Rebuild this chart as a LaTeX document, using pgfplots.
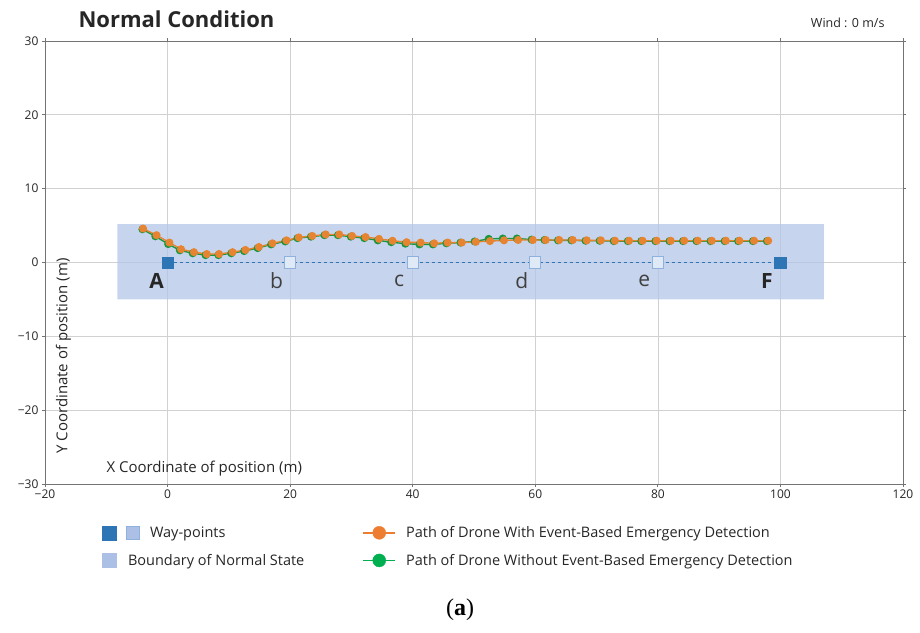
\documentclass[border=0pt]{standalone}
\usepackage{pgfplots}
\pgfplotsset{compat=1.18}
\usepackage{fontspec}
\setmainfont{Open Sans}
\setsansfont{Open Sans}
\newfontfamily\seriffont{Liberation Serif}
\definecolor{wpdark}{RGB}{46,117,182}
\definecolor{wplight}{RGB}{224,233,246}
\definecolor{wpedge}{RGB}{143,177,222}
\definecolor{wplegend}{RGB}{172,192,230}
\definecolor{bnd}{RGB}{180,198,232}
\definecolor{orangeD}{RGB}{230,132,50}
\definecolor{greenD}{RGB}{25,150,65}
\definecolor{greenL}{RGB}{0,176,80}
\definecolor{orangeL}{RGB}{237,125,49}
\begin{document}
\begin{tikzpicture}
\useasboundingbox (0pt,0pt) rectangle (920pt,-632pt);
\begin{axis}[
  at={(45pt,-484pt)}, anchor=south west, scale only axis,
  width=858pt, height=443pt,
  xmin=-20, xmax=120, ymin=-30, ymax=30,
  xtick={-20,0,20,40,60,80,100,120},
  xticklabels={−20,0,20,40,60,80,100,120},
  ytick={-30,-20,-10,0,10,20,30},
  yticklabels={−30,−20,−10,0,10,20,30},
  grid=major, grid style={black!18, line width=0.7pt},
  axis line style={black!55, line width=0.9pt},
  tick style={black!55, line width=0.8pt},
  tick align=outside, major tick length=3pt,
  tick label style={font=\fontsize{12}{14}\selectfont, text=black!85},
  xticklabel style={yshift=1pt},
  clip=false,
  legend columns=2,
  legend cell align=left,
  legend style={at={(0.066,-0.091)}, anchor=north west, draw=none, fill=none,
    font=\fontsize{14.5}{17}\selectfont, text=black!85,
    /tikz/every odd column/.append style={column sep=8pt},
    /tikz/every even column/.append style={column sep=56pt},
    row sep=11pt, inner sep=0pt},
]
% boundary of normal state
\addplot[fill=bnd, fill opacity=0.75, draw=none, forget plot]
  coordinates {(-8.2,-5) (107.1,-5) (107.1,5.2) (-8.2,5.2) (-8.2,-5)};
% way-point route
\addplot[wpdark, dashed, line width=0.9pt, forget plot] coordinates {(0,0) (100,0)};
\addplot[only marks, mark=square*, mark size=5.6pt,
  mark options={fill=wplight, draw=wpedge, line width=0.9pt}, forget plot]
  coordinates {(20,0) (40,0) (60,0) (80,0)};
\addplot[only marks, mark=square*, mark size=5.8pt, mark options={fill=wpdark, draw=wpdark}, forget plot]
  coordinates {(0,0) (100,0)};
% path without event-based detection
\addplot[greenD, line width=1.4pt, mark=*, mark size=3.3pt, mark options={fill=greenD, draw=greenD}, forget plot]
  coordinates {(-4.1,4.5) (-2.0,3.55) (0.1,2.5) (2.0,1.65) (4.1,1.25) (6.2,1.0) (8.3,1.0) (10.4,1.25)
  (12.5,1.55) (14.7,1.95) (16.9,2.45) (19.2,2.85) (21.2,3.3) (23.4,3.5) (25.6,3.7) (27.8,3.7)
  (29.9,3.5) (32.1,3.3) (34.3,3.0) (36.5,2.75) (38.8,2.55) (41.1,2.45) (43.3,2.45) (45.5,2.6)
  (47.8,2.7) (50.1,2.85) (52.4,3.2) (54.7,3.25) (57.0,3.25) (59.4,3.1) (61.5,3.05) (63.7,3.0)
  (65.9,3.0) (68.2,2.95) (70.5,2.95) (72.8,2.9) (75.1,2.9) (77.3,2.9) (79.6,2.9) (81.9,2.9)
  (84.1,2.9) (86.3,2.9) (88.6,2.9) (90.9,2.9) (93.1,2.9) (95.5,2.9) (97.8,2.9)};
% path with event-based detection
\addplot[orangeD, line width=1.4pt, mark=*, mark size=3.3pt, mark options={fill=orangeD, draw=orangeD}, forget plot]
  coordinates {(-4.0,4.6) (-1.8,3.7) (0.3,2.7) (2.2,1.8) (4.3,1.4) (6.4,1.15) (8.4,1.15) (10.6,1.4)
  (12.7,1.7) (14.9,2.1) (17.1,2.6) (19.4,3.0) (21.4,3.4) (23.6,3.6) (25.8,3.8) (28.0,3.8)
  (30.1,3.6) (32.3,3.45) (34.5,3.2) (36.7,2.95) (39.0,2.75) (41.3,2.7) (43.5,2.6) (45.7,2.7)
  (48.0,2.7) (50.3,2.8) (52.6,2.9) (54.9,3.0) (57.2,3.05) (59.6,3.05) (61.7,3.05) (63.9,3.05)
  (66.1,3.05) (68.4,3.0) (70.7,3.0) (73.0,2.95) (75.3,2.95) (77.5,2.95) (79.8,2.95) (82.1,2.95)
  (84.3,2.95) (86.5,2.95) (88.8,2.95) (91.1,2.95) (93.3,2.95) (95.7,2.95) (98.0,2.95)};
% legend
\addlegendimage{legend image code/.code={
  \fill[wpdark] (0pt,-7pt) rectangle (14pt,7pt);
  \filldraw[fill=wplegend, draw=wpedge, line width=0.8pt] (24pt,-6.6pt) rectangle (37.6pt,6.6pt);}}
\addlegendentry{Way-points}
\addlegendimage{legend image code/.code={
  \draw[orangeL, line width=1.8pt] (0pt,0pt) -- (32pt,0pt);
  \fill[orangeL] (16pt,0pt) circle (6.5pt);}}
\addlegendentry{Path of Drone With Event-Based Emergency Detection}
\addlegendimage{legend image code/.code={
  \fill[wplegend] (0pt,-7pt) rectangle (14pt,7pt);}}
\addlegendentry{\hspace{-22pt}Boundary of Normal State}
\addlegendimage{legend image code/.code={
  \draw[greenL, line width=1.8pt] (0pt,0pt) -- (32pt,0pt);
  \fill[greenL] (16pt,0pt) circle (6.5pt);}}
\addlegendentry{Path of Drone Without Event-Based Emergency Detection}
% way-point labels
\node[font=\fontsize{21}{21}\selectfont\bfseries, text=black!85] at (axis cs:-1.8,-2.5) {A};
\node[font=\fontsize{21}{21}\selectfont, text=black!75] at (axis cs:17.8,-2.5) {b};
\node[font=\fontsize{21}{21}\selectfont, text=black!75] at (axis cs:37.8,-2.5) {c};
\node[font=\fontsize{21}{21}\selectfont, text=black!75] at (axis cs:57.8,-2.5) {d};
\node[font=\fontsize{21}{21}\selectfont, text=black!75] at (axis cs:77.8,-2.5) {e};
\node[font=\fontsize{21}{21}\selectfont\bfseries, text=black!85] at (axis cs:97.8,-2.5) {F};
% axis labels inside the frame
\node[anchor=west, font=\fontsize{15}{17}\selectfont, text=black!85] at (rel axis cs:0.0676,0.036) {X Coordinate of position (m)};
\node[rotate=90, anchor=center, font=\fontsize{15}{17}\selectfont, text=black!85] at (rel axis cs:0.0215,0.289) {Y Coordinate of position (m)};
\end{axis}
\node[anchor=base west, font=\fontsize{22}{22}\selectfont\bfseries, text=black!85] at (75pt,-27pt) {Normal Condition};
\node[anchor=base east, font=\fontsize{12.5}{14}\selectfont, text=black!85] at (888pt,-27pt) {Wind : 0 m/s};
\node[font=\seriffont\fontsize{24}{24}\selectfont] at (460pt,-610pt) {(\textbf{a})};
\end{tikzpicture}
\end{document}
